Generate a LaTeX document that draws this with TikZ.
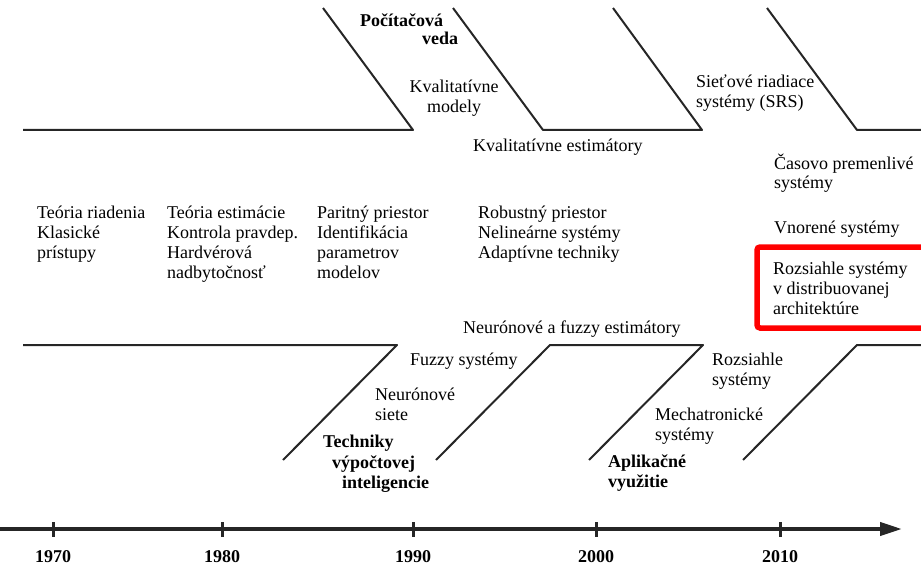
\documentclass[tikz,border=0pt]{standalone}
\usepackage{fontspec}
\setmainfont{Liberation Serif}
\usetikzlibrary{arrows.meta}
\begin{document}
\begin{tikzpicture}[x=1pt,y=-1pt,
  bone/.style={line width=2pt,draw=black!85,line join=round},
  axisline/.style={line width=4pt,draw=black!85,-{Triangle[length=22pt,width=13pt]}},
  tickmark/.style={line width=3pt,draw=black!85},
  % multi-line labels are placed by the baseline of their last line
  lbl/.style={anchor=base west,inner sep=0pt,align=left,
    font=\fontsize{18}{20}\selectfont},
  lblb/.style={lbl,font=\fontsize{18}{20}\selectfont\bfseries},
  year/.style={anchor=base,inner sep=0pt,font=\fontsize{18}{20}\selectfont\bfseries},
  hilite/.style={draw=red,line width=5.5pt,rounded corners=3pt}]
\useasboundingbox (0,0) rectangle (921,567);

% upper bones
\draw[bone] (23,130) -- (413,130) -- (323,8);
\draw[bone] (453,8) -- (543,130) -- (702,130) -- (613,8);
\draw[bone] (767,8) -- (857,130) -- (930,130);

% lower bones
\draw[bone] (23,345) -- (397,345) -- (283,460);
\draw[bone] (436,460) -- (550,345) -- (703,345) -- (589,460);
\draw[bone] (743,460) -- (857,345) -- (930,345);

% time axis
\draw[axisline] (0,529) -- (902,529);
\foreach \x/\y in {53/1970,222/1980,413/1990,596/2000,780/2010}{
  \draw[tickmark] (\x,522) -- (\x,537);
  \node[year] (y\y) at (\x,562) {\y};
}

% highlighted topic
\draw[hilite] (757,247) rectangle (935,328);

% labels above the axis
\node[lblb] (pv) at (360,27) {Počítačová};
\node[lblb] (veda) at (422,45) {veda};
\node[lbl,align=center,anchor=base] (km) at (454,113) {Kvalitatívne\\modely};
\node[lbl] (ke) at (473,152) {Kvalitatívne estimátory};
\node[lbl] (srs) at (696,108) {Sieťové riadiace\\systémy (SRS)};
\node[lbl] (cas) at (774,189) {Časovo premenlivé\\systémy};
\node[lbl] (vno) at (774,233) {Vnorené systémy};
\node[lbl] (roz) at (773,314) {Rozsiahle systémy\\v distribuovanej\\architektúre};

\node[lbl] (t70) at (37,258) {Teória riadenia\\Klasické\\prístupy};
\node[lbl] (t80) at (167,278) {Teória estimácie\\Kontrola pravdep.\\Hardvérová\\nadbytočnosť};
\node[lbl] (t90) at (317,278) {Paritný priestor\\Identifikácia\\parametrov\\modelov};
\node[lbl] (t00) at (478,258) {Robustný priestor\\Nelineárne systémy\\Adaptívne techniky};

% labels below the middle
\node[lbl] (nfe) at (463,333) {Neurónové a fuzzy estimátory};
\node[lbl] (fs) at (410,365) {Fuzzy systémy};
\node[lbl] (ns) at (375,420) {Neurónové\\siete};
\node[lbl] (tech1) at (323,447) {\bfseries Techniky};
\node[lbl] (tech2) at (332,468) {\bfseries výpočtovej};
\node[lbl] (tech3) at (342,488) {\bfseries inteligencie};
\node[lbl] (rs) at (712,385) {Rozsiahle\\systémy};
\node[lbl] (ms) at (655,440) {Mechatronické\\systémy};
\node[lblb] (av) at (608,487) {Aplikačné\\využitie};
\end{tikzpicture}
\end{document}
